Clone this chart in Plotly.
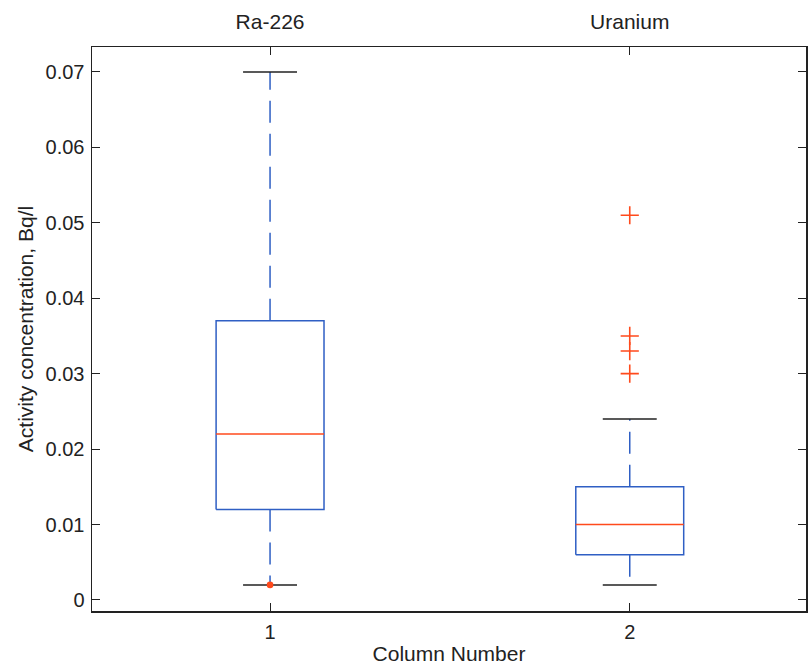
import plotly.graph_objects as go

categories = ["Ra-226", "Uranium"]
positions = [1, 2]
q1 = [0.012, 0.006]
median = [0.022, 0.010]
q3 = [0.037, 0.015]
whisk_lo = [0.002, 0.002]
whisk_hi = [0.070, 0.024]
outliers_y = [[0.002], [0.051, 0.035, 0.033, 0.030]]
outlier_symbol = ["circle", "cross-thin"]

BLUE = "#2f5fc4"
RED = "#ff4a1c"
BLACK = "#222222"
half_box = 0.15
half_cap = 0.075

fig = go.Figure()
for i, p in enumerate(positions):
    # box
    fig.add_trace(go.Scatter(
        x=[p - half_box, p + half_box, p + half_box, p - half_box, p - half_box],
        y=[q1[i], q1[i], q3[i], q3[i], q1[i]],
        mode="lines", line=dict(color=BLUE, width=1.5), hoverinfo="skip"))
    # whiskers
    fig.add_trace(go.Scatter(x=[p, p], y=[q3[i], whisk_hi[i]], mode="lines",
                             line=dict(color=BLUE, width=1.5, dash="22px,11px"), hoverinfo="skip"))
    fig.add_trace(go.Scatter(x=[p, p], y=[q1[i], whisk_lo[i]], mode="lines",
                             line=dict(color=BLUE, width=1.5, dash="22px,11px"), hoverinfo="skip"))
    # caps
    for v in (whisk_lo[i], whisk_hi[i]):
        fig.add_trace(go.Scatter(x=[p - half_cap, p + half_cap], y=[v, v], mode="lines",
                                 line=dict(color=BLACK, width=1.5), hoverinfo="skip"))
    # median
    fig.add_trace(go.Scatter(x=[p - half_box, p + half_box], y=[median[i], median[i]], mode="lines",
                             line=dict(color=RED, width=1.5), hoverinfo="skip"))
    # outliers
    sym = outlier_symbol[i]
    fig.add_trace(go.Scatter(
        x=[p] * len(outliers_y[i]), y=outliers_y[i], mode="markers",
        marker=dict(symbol=sym, size=5 if sym == "circle" else 13, color=RED,
                    line=dict(color=RED, width=1.6)),
        hoverinfo="skip"))

fig.add_trace(go.Scatter(x=[1, 2], y=[None, None], xaxis="x2", showlegend=False))

fnt = dict(family="Liberation Sans, Arial, sans-serif", size=20, color="#222222")
fig.update_layout(
    width=809, height=666,
    margin=dict(l=92, r=3, t=47, b=55),
    paper_bgcolor="white", plot_bgcolor="white",
    showlegend=False,
    font=fnt,
    xaxis=dict(range=[0.505, 2.49], tickvals=positions, ticktext=["1", "2"],
               ticks="inside", ticklen=8, tickcolor=BLACK, showline=True, linecolor=BLACK,
               linewidth=1.5, mirror=True, showgrid=False, zeroline=False, automargin=False,
               ticklabelstandoff=2,
               title=dict(text="Column Number", font=dict(size=21), standoff=5)),
    xaxis2=dict(range=[0.505, 2.49], overlaying="x", side="top", tickvals=positions,
                ticktext=categories, ticks="inside", ticklen=8, tickcolor=BLACK,
                showgrid=False, zeroline=False, showline=False, automargin=False,
                ticklabelstandoff=13, tickfont=dict(size=21)),
    yaxis=dict(range=[-0.00146, 0.0733], tickvals=[0, 0.01, 0.02, 0.03, 0.04, 0.05, 0.06, 0.07],
               ticktext=["0", "0.01", "0.02", "0.03", "0.04", "0.05", "0.06", "0.07"],
               ticks="inside", ticklen=8, tickcolor=BLACK, showline=True, linecolor=BLACK,
               linewidth=1.5, mirror="ticks", showgrid=False, zeroline=False, automargin=False,
               ticklabelstandoff=2,
               title=dict(text="Activity concentration, Bq/l", font=dict(size=21), standoff=6)),
)
fig.write_html("out.html", config={"displayModeBar": False, "staticPlot": True},
               post_script="document.body.style.margin='0';document.body.style.overflow='hidden';")
